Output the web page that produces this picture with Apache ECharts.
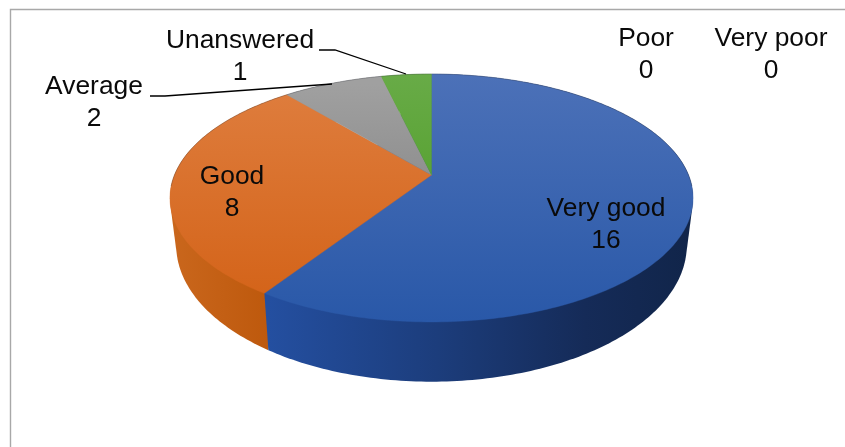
<!DOCTYPE html>
<html>
<head>
<meta charset="utf-8">
<style>html,body{margin:0;padding:0;background:#fff}#c{width:845px;height:447px}</style>
<script src="https://cdn.jsdelivr.net/npm/echarts@6/dist/echarts.min.js"></script>
</head>
<body>
<div id="c"></div>
<script>
const categories = ['Very good', 'Good', 'Average', 'Unanswered', 'Poor', 'Very poor'];
const responses = [16, 8, 2, 1, 0, 0];

// label centres and leader lines, in pixels of the page
const labelCentres = [[606, 225], [232, 193], [94, 103], [240, 57], [646, 55], [771, 55]];
const leaders = [null, null, [[150, 96], [165, 96], [332, 84]], [[319, 50], [335, 50], [406, 74]], null, null];

const total = responses.reduce((a, b) => a + b, 0);
const starts = [];
responses.reduce((acc, v, i) => { starts[i] = acc; return acc + v; }, 0);

// projective view of the pie disc
const view = { cx: 431.5, cy: 175, k: 257, m: 119.7, p: 0.1855, sx: 0.976, sy: 1.1, depth: 45 };
function topPoint(t) {
  const d = 1 + view.p * Math.cos(t);
  return [view.cx + view.k * Math.sin(t) / d, view.cy - view.m * Math.cos(t) / d];
}
function bottomPoint(t) {
  const q = topPoint(t);
  return [view.cx + (q[0] - view.cx) * view.sx, view.cy + (q[1] - view.cy) * view.sy + view.depth];
}
function range(i) {
  const a = starts[i] / total * 2 * Math.PI;
  return [a, a + responses[i] / total * 2 * Math.PI];
}
function hull(points) {
  const p = points.slice().sort((u, v) => u[0] - v[0] || u[1] - v[1]);
  const cross = (o, u, v) => (u[0] - o[0]) * (v[1] - o[1]) - (u[1] - o[1]) * (v[0] - o[0]);
  const half = list => {
    const out = [];
    for (const q of list) {
      while (out.length > 1 && cross(out[out.length - 2], out[out.length - 1], q) <= 0) out.pop();
      out.push(q);
    }
    out.pop();
    return out;
  };
  return half(p).concat(half(p.slice().reverse()));
}
const grad = (x, y, x2, y2, stops) => new echarts.graphic.LinearGradient(x, y, x2, y2,
  stops.map(s => ({ offset: s[0], color: s[1] })), true);

const topFills = [
  grad(0, 74, 0, 322, [[0, '#4C71B8'], [1, '#2958A8']]),
  grad(0, 95, 0, 294, [[0, '#DE7C3C'], [1, '#D4641A']]),
  grad(0, 84, 0, 175, [[0, '#A0A0A0'], [1, '#909090']]),
  grad(0, 74, 0, 175, [[0, '#68AB47'], [1, '#5AA335']]),
  '#000', '#000'
];
const sideFills = [
  grad(268, 0, 690, 0, [[0, '#244FA0'], [0.4, '#1C3D7C'], [0.75, '#152B58'], [1, '#11254A']]),
  grad(175, 0, 268, 0, [[0, '#C9661C'], [1, '#BE590D']]),
  '#888', '#4a8a2a', '#000', '#000'
];

function renderSide(params, api) {
  const i = api.value(0), [a, b] = range(i);
  if (api.value(1) === 0) return { type: 'group', children: [] };
  const pts = [];
  const n = Math.ceil((b - a) * 60);
  for (let j = 0; j <= n; j++) {
    const t = a + (b - a) * j / n;
    pts.push(topPoint(t), bottomPoint(t));
  }
  return {
    type: 'polygon', silent: true,
    shape: { points: hull(pts) },
    style: { fill: sideFills[i] }
  };
}
function renderTop(params, api) {
  const i = api.value(0), [a, b] = range(i);
  const children = [];
  if (api.value(1) === 0) return { type: 'group', children };
  const pts = [[view.cx, view.cy]];
  let rim = [];
  const n = Math.max(8, Math.ceil((b - a) * 60));
  for (let j = 0; j <= n; j++) {
    const t = a + (b - a) * j / n;
    const q = topPoint(t);
    pts.push(q);
    if (Math.cos(t) > -0.1) rim.push(q);
    else if (rim.length) { children.push(edge(rim)); rim = []; }
  }
  children.unshift({ type: 'polygon', silent: true, shape: { points: pts }, style: { fill: topFills[i], stroke: topFills[i], lineWidth: 0.4 } });
  if (rim.length > 1) children.push(edge(rim));
  return { type: 'group', children };
}
function edge(points) {
  return { type: 'polyline', silent: true, shape: { points }, style: { fill: null, stroke: 'rgba(45,50,60,0.4)', lineWidth: 0.7 } };
}
function renderLabel(params, api) {
  const i = api.value(0), c = labelCentres[i];
  const children = [{
    type: 'text', silent: true, x: c[0], y: c[1],
    style: {
      text: categories[i] + '\n' + api.value(1),
      x: 0, y: 0, align: 'center', verticalAlign: 'middle',
      fontFamily: '"Liberation Sans", Arial, sans-serif', fontSize: 26.4, lineHeight: 32, fill: '#0a0a0a'
    }
  }];
  if (leaders[i]) children.push({
    type: 'polyline', silent: true, shape: { points: leaders[i] },
    style: { fill: null, stroke: '#000', lineWidth: 1.3 }
  });
  return { type: 'group', children };
}

const rows = responses.map((v, i) => [i, v]);
const chart = echarts.init(document.getElementById('c'), null, { renderer: 'canvas' });
chart.setOption({
  animation: false,
  backgroundColor: '#ffffff',
  graphic: [{
    type: 'rect', silent: true, z: 0,
    shape: { x: 10.5, y: 9.5, width: 860, height: 470 },
    style: { fill: null, stroke: '#a8a8a8', lineWidth: 1.4 }
  }],
  series: [
    { type: 'custom', name: 'sides', coordinateSystem: 'none', data: rows.slice().reverse(), renderItem: renderSide, z: 2 },
    { type: 'custom', name: 'faces', coordinateSystem: 'none', data: rows, renderItem: renderTop, z: 3 },
    { type: 'custom', name: 'labels', coordinateSystem: 'none', data: rows, renderItem: renderLabel, z: 4 }
  ]
});
</script>
</body>
</html>
